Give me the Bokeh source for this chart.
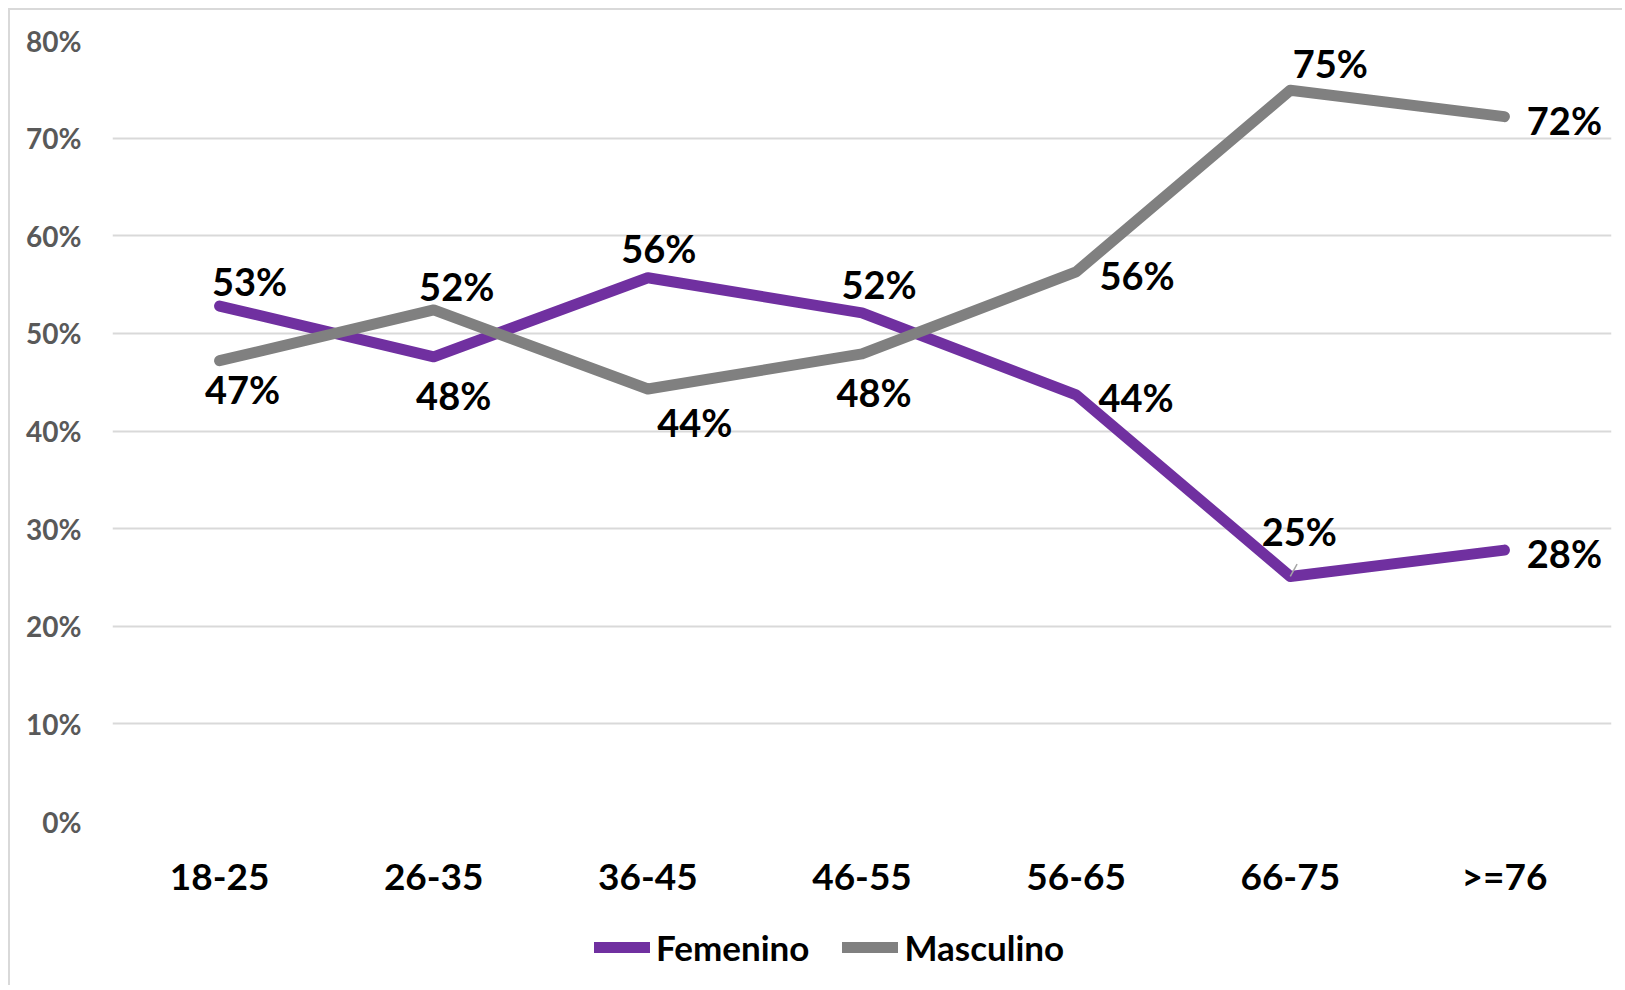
import math
from bokeh.plotting import figure
from bokeh.layouts import column
from bokeh.models import FactorRange, Range1d, NumeralTickFormatter, FixedTicker, Legend, LegendItem
from bokeh.core.properties import value
from bokeh.embed import file_html
from bokeh.resources import INLINE

categories = ["18-25", "26-35", "36-45", "46-55", "56-65", "66-75", ">=76"]
femenino = [0.528, 0.476, 0.557, 0.521, 0.437, 0.251, 0.278]
masculino = [0.472, 0.524, 0.443, 0.479, 0.563, 0.749, 0.722]
y_ticks = [0.0, 0.1, 0.2, 0.3, 0.4, 0.5, 0.6, 0.7, 0.8]
series_names = ["Femenino", "Masculino"]

fem_labels = [f"{v * 100:.0f}%" for v in femenino]
masc_labels = [f"{v * 100:.0f}%" for v in masculino]

# label placement (screen pixel offsets, layout only)
fem_dx = [30, 20, 11, 17, 60, 9, 60]
fem_dy = [-25, 38, -30, -29, 2, -45, 3]
masc_dx = [23, 23, 47, 12, 61, 40, 60]
masc_dy = [28, -24, 33, 38, 3, -27, 3]
leader_index = 5  # the "25%" label has a small leader line

PURPLE = "#7030A0"
GRAY = "#808080"
FONT = "Lato"
W = 1612

p = figure(
    x_range=FactorRange(factors=categories, range_padding=0),
    y_range=Range1d(0, 0.8),
    width=W, height=891,
    output_backend="svg", toolbar_location=None,
    min_border_left=102, min_border_right=11,
    min_border_top=30, min_border_bottom=80,
)
p.outline_line_color = None
p.background_fill_color = "white"
p.border_fill_color = "white"

r_f = p.line(x=categories, y=femenino, line_color=PURPLE, line_width=11,
             line_cap="round", line_join="round")
r_m = p.line(x=categories, y=masculino, line_color=GRAY, line_width=11,
             line_cap="round", line_join="round")

# leader line of the "25%" label
p.ray(x=[categories[leader_index]], y=[femenino[leader_index]], length=14,
      length_units="screen", angle=math.radians(61), line_color="#a6a6a6", line_width=1.5)

for vals, labs, dx, dy in ((femenino, fem_labels, fem_dx, fem_dy),
                           (masculino, masc_labels, masc_dx, masc_dy)):
    p.text(x=categories, y=vals, text=labs, x_offset=dx, y_offset=dy,
           text_font=value(FONT), text_font_style="bold", text_font_size="38px",
           text_align="center", text_baseline="middle", text_color="black")

# axes
p.xaxis.axis_line_color = None
p.xaxis.major_tick_line_color = None
p.xaxis.minor_tick_line_color = None
p.xaxis.major_label_text_font = FONT
p.xaxis.major_label_text_font_style = "bold"
p.xaxis.major_label_text_font_size = "37px"
p.xaxis.major_label_text_color = "black"
p.xaxis.major_label_standoff = 25

p.yaxis.ticker = FixedTicker(ticks=y_ticks)
p.yaxis.formatter = NumeralTickFormatter(format="0%")
p.yaxis.axis_line_color = None
p.yaxis.major_tick_line_color = None
p.yaxis.minor_tick_line_color = None
p.yaxis.major_label_text_font = FONT
p.yaxis.major_label_text_font_style = "bold"
p.yaxis.major_label_text_font_size = "28px"
p.yaxis.major_label_text_color = "#595959"
p.yaxis.major_label_standoff = 25

p.xgrid.grid_line_color = None
p.ygrid.grid_line_color = "#d9d9d9"
p.ygrid.grid_line_width = 2

# legend strip below the chart (its own lines sit outside its visible range)
lg = figure(width=W, height=84, output_backend="svg", toolbar_location=None,
            x_range=FactorRange(factors=categories, range_padding=0),
            y_range=Range1d(5, 6),
            x_axis_location=None, y_axis_location=None,
            min_border_left=0, min_border_right=0, min_border_top=0, min_border_bottom=0)
lg.outline_line_color = None
lg.grid.grid_line_color = None
lg.border_fill_color = "white"
lg.background_fill_color = "white"
d_f = lg.line(x=categories, y=femenino, line_color=PURPLE, line_width=11, line_cap="round")
d_m = lg.line(x=categories, y=masculino, line_color=GRAY, line_width=11, line_cap="round")

legend = Legend(
    items=[LegendItem(label=series_names[0], renderers=[d_f]),
           LegendItem(label=series_names[1], renderers=[d_m])],
    orientation="horizontal", location=(482, 17),
    glyph_width=56, glyph_height=40, label_height=40, label_standoff=6, spacing=33,
    padding=0, margin=0, border_line_color=None, background_fill_alpha=0,
    label_text_font=FONT, label_text_font_style="bold",
    label_text_font_size="35px", label_text_color="black",
)
lg.add_layout(legend)

layout = column(p, lg, spacing=0)
layout.styles = {"margin-left": "8px", "margin-top": "8px",
                 "border-left": "2px solid #d9d9d9", "border-top": "2px solid #d9d9d9"}

open("out.html", "w").write(file_html(layout, INLINE))
